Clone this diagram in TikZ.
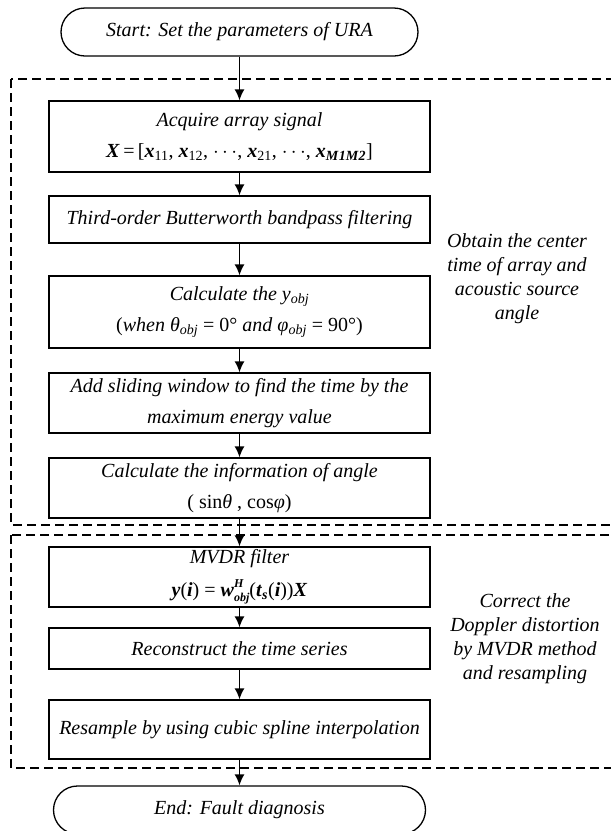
\documentclass[tikz,border=0pt]{standalone}
\usepackage{fontspec}
\setmainfont{Liberation Serif}
\usetikzlibrary{arrows.meta}

\newcommand{\bsym}[1]{\textbf{\textit{#1}}}
\newcommand{\lowidx}[1]{\textsubscript{\upshape #1}}
\newcommand{\upperidx}[1]{\raisebox{9pt}{\fontsize{12}{12}\selectfont #1}}
\newcommand{\lowerobj}[1]{\raisebox{-5pt}{\fontsize{12}{12}\selectfont #1}}

\tikzset{
  stepbox/.style={draw, line width=1.3pt, minimum width=381pt, align=center, inner sep=2pt,
    font=\fontsize{20}{31}\selectfont\itshape},
  termbox/.style={draw, line width=1.3pt, rounded corners=24pt, minimum height=48pt,
    font=\fontsize{20}{24}\selectfont\itshape},
  flow/.style={line width=1.4pt, -{Latex[length=11pt,width=10pt]}},
  phase/.style={dash pattern=on 9pt off 5pt, line width=1.2pt},
  note/.style={align=center, font=\fontsize{20}{24}\selectfont\itshape}
}

\begin{document}
\begin{tikzpicture}[x=1pt, y=-1pt]
        \useasboundingbox (0,0) rectangle (611,831);

        % The two dashed phases
        \draw[phase] (11,79) rectangle (616,525);
        \draw[phase] (11,535) rectangle (616,768);

        % Start and end
        \node[termbox, minimum width=357pt] (start) at (239.5,32) {Start: Set the parameters of URA};
        \node[termbox, minimum width=372pt] (end) at (239.5,810) {End: Fault diagnosis};

        % First phase
        \node[stepbox, minimum height=71pt] (acq) at (239.5,136.5)
            {Acquire array signal\\
             \upshape\bsym{X}\,=\,[\bsym{x}\lowidx{11}, \bsym{x}\lowidx{12}, $\cdots$, \bsym{x}\lowidx{21}, $\cdots$, \bsym{x}\textsubscript{\bsym{M}\bsym{1}\bsym{M}\bsym{2}}]};
        \node[stepbox, minimum height=47pt] (filt) at (239.5,219.5)
            {Third-order Butterworth bandpass filtering};
        \node[stepbox, minimum height=72pt] (calc) at (239.5,312)
            {Calculate the \textit{y}\textsubscript{obj}\\
             \upshape(\textit{when θ\textsubscript{obj}} = 0° \textit{and φ\textsubscript{obj}} = 90°)};
        \node[stepbox, minimum height=60pt] (win) at (239.5,403)
            {Add sliding window to find the time by the\\maximum energy value};
        \node[stepbox, minimum height=60pt] (ang) at (239.5,488)
            {Calculate the information of angle\\
             \upshape( sin\textit{θ} , cos\textit{φ})};

        % Second phase
        \node[stepbox, minimum height=60pt] (mvdr) at (239.5,577)
            {MVDR filter\\[2pt]
             \upshape\bsym{y}(\bsym{i}) = \bsym{w}\rlap{\upperidx{\bsym{H}}}\lowerobj{\bsym{obj}}(\bsym{t}\textsubscript{\bsym{s}}(\bsym{i}))\bsym{X}};
        \node[stepbox, minimum height=41pt] (recon) at (239.5,648.5)
            {Reconstruct the time series};
        \node[stepbox, minimum height=59pt] (resamp) at (239.5,729.5)
            {Resample by using cubic spline interpolation};

        % Notes on the right
        \node[note] (obtain) at (517,279)
            {Obtain the center\\time of array and\\acoustic source\\angle};
        \node[note] (correct) at (525,639)
            {Correct the\\Doppler distortion\\by MVDR method\\and resampling};

        % Arrows between the steps
        \draw[flow] (start) -- (acq);
        \draw[flow] (acq) -- (filt);
        \draw[flow] (filt) -- (calc);
        \draw[flow] (calc) -- (win);
        \draw[flow] (win) -- (ang);
        \draw[flow] (ang) -- (mvdr);
        \draw[flow] (mvdr) -- (recon);
        \draw[flow] (recon) -- (resamp);
        \draw[flow] (resamp) -- (end);
    \end{tikzpicture}
\end{document}
